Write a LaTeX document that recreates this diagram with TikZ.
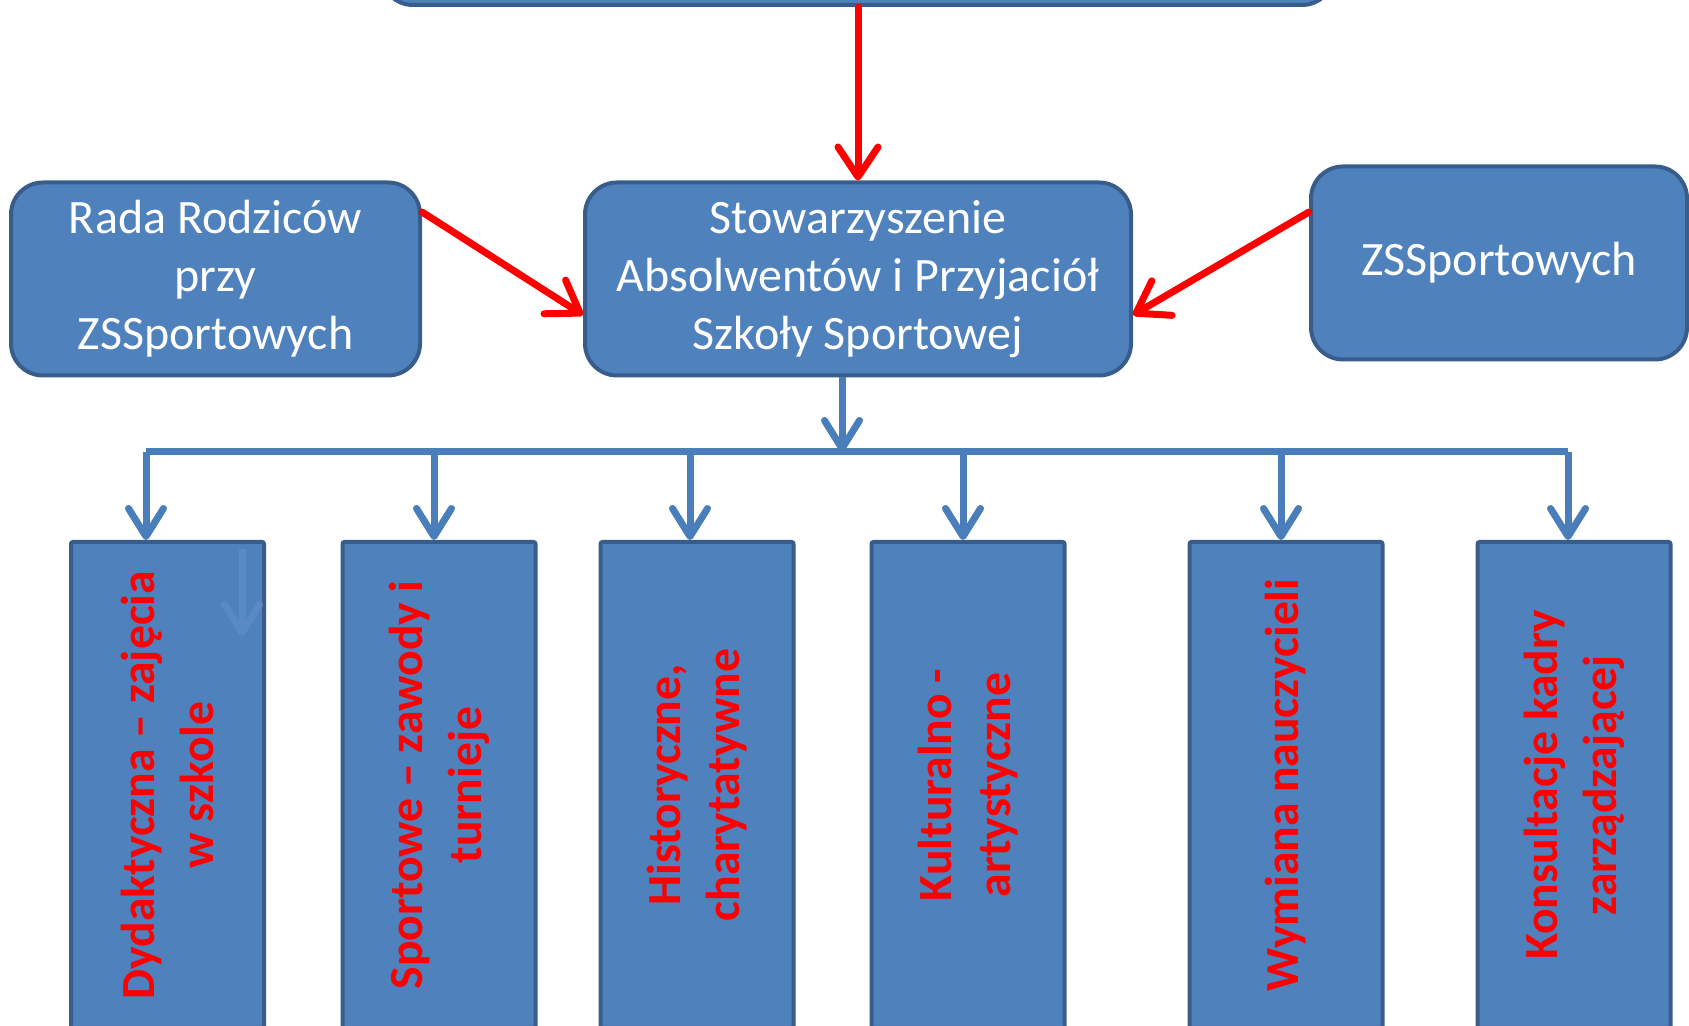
\documentclass[tikz,border=0pt]{standalone}
\usepackage{fontspec}
\setmainfont{Carlito}
\usetikzlibrary{arrows.meta, positioning, calc}
\definecolor{boxblue}{HTML}{4F81BD}
\definecolor{edgeblue}{HTML}{385D8A}
\definecolor{linkblue}{HTML}{4A7EBB}
\definecolor{ghostblue}{HTML}{5A8AC6}

\begin{document}
\begin{tikzpicture}[x=0.5pt, y=0.5pt,
    orgbox/.style={draw=edgeblue, line width=2pt, fill=boxblue, rounded corners=16pt,
        text=white, align=center, font=\fontsize{24}{29}\selectfont,
        minimum height=96.5pt, inner sep=0pt},
    catbox/.style={draw=edgeblue, line width=2pt, fill=boxblue, rounded corners=1pt,
        minimum width=96.5pt, minimum height=243pt, inner sep=0pt},
    cattext/.style={rotate=90, text=red, align=center,
        font=\bfseries\fontsize{23.8}{29.5}\selectfont},
    redarrow/.style={draw=red, line width=3.5pt, line cap=round,
        -{Straight Barb[length=15pt, width=20pt, round]}},
    bluearrow/.style={draw=linkblue, line width=3.5pt,
        -{Straight Barb[length=14pt, width=17.5pt, round]}},
    busline/.style={draw=linkblue, line width=3.5pt}
]
    \useasboundingbox (0,0) rectangle (1689,1026);
    \clip (0,0) rectangle (1689,1026);

    % Upper level
    \node[orgbox, minimum width=476.5pt, minimum height=100pt, anchor=south] (head) at (857.5,1019) {};
    \node[orgbox, minimum width=273pt] (stow) at (858,747)
        {Stowarzyszenie\\Absolwentów i Przyjaciół\\Szkoły Sportowej};
    \node[orgbox, minimum width=204.5pt] (rada) at (215.5,747)
        {Rada Rodziców\\przy\\ZSSportowych};
    \node[orgbox, minimum width=188pt] (zss) at (1499,763) {ZSSportowych};

    % Red links into the association
    \draw[redarrow] ([xshift=0.25pt]head.south) -- (stow.north);
    \draw[redarrow] ([yshift=33.5pt]rada.east) -- ([yshift=-18pt]stow.west);
    \draw[redarrow] ([yshift=25.5pt]zss.west) -- ([yshift=-18pt]stow.east);

    % Bus line
    \coordinate (hub) at (842,574);
    \draw[bluearrow] ([xshift=-8pt]stow.south) -- (hub);

    % Areas of activity
    \foreach \n/\cx/\dx/\txt in {
        1/167.5/146/{Dydaktyczna – zajęcia\\w szkole},
        2/439/434/{Sportowe – zawody i\\turnieje},
        3/697/690/{Historyczne,\\charytatywne},
        4/968/963/{Kulturalno -\\artystyczne},
        5/1286/1281/{Wymiana nauczycieli},
        6/1574/1568/{Konsultacje kadry\\zarządzającej}} {
        \node[catbox] (b\n) at (\cx,241) {};
        \node[cattext] (t\n) at (b\n) {\txt};
        \coordinate (d\n) at (\dx,574);
        \draw[bluearrow] (d\n) -- (d\n |- b\n.north);
    }
    \draw[busline] (d1) -- (d6);

    % faint leftover arrow
    \coordinate (ghosttop) at (242,477);
    \coordinate (ghostend) at (242,390);
    \draw[draw=ghostblue, line width=3.5pt, -{Straight Barb[length=14pt, width=17.5pt, round]}]
        (ghosttop) -- (ghostend);
\end{tikzpicture}
\end{document}
